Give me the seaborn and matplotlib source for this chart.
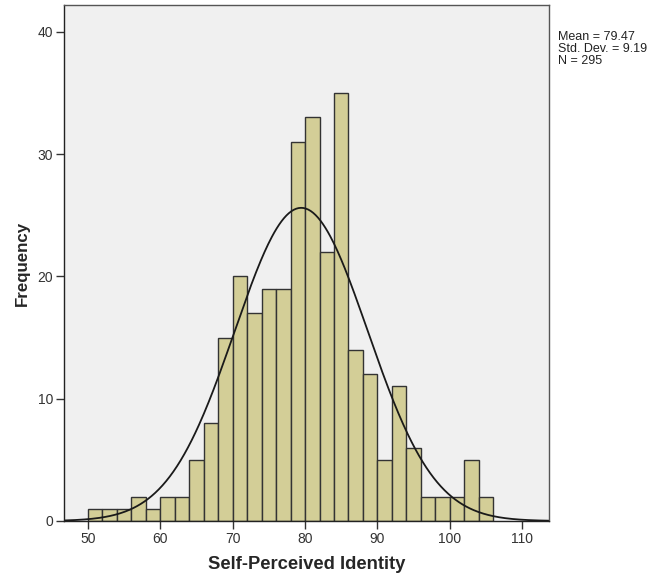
import numpy as np
import pandas as pd
import matplotlib
matplotlib.use("Agg")
import matplotlib.pyplot as plt
import seaborn as sns

# Data
bin_left = [50, 52, 54, 56, 58, 60, 62, 64, 66, 68, 70, 72, 74, 76,
            78, 80, 82, 84, 86, 88, 90, 92, 94, 96, 98, 100, 102, 104]
counts = [1, 1, 1, 2, 1, 2, 2, 5, 8, 15, 20, 17, 19, 19,
          31, 33, 22, 35, 14, 12, 5, 11, 6, 2, 2, 2, 5, 2]
bin_width = 2
mean_val = 79.47
sd_val = 9.19
n_val = 295
x_ticks = [50, 60, 70, 80, 90, 100, 110]
y_ticks = [0, 10, 20, 30, 40]

sns.set_theme(style="white")
plt.rcParams['font.family'] = ['Liberation Sans', 'DejaVu Sans']

fig = plt.figure(figsize=(6.51, 5.75), dpi=100)
ax = fig.add_axes([64/651, 1-521/575, (549-64)/651, (521-5)/575])
ax.set_facecolor('#f0f0f0')

df = pd.DataFrame({"x": np.array(bin_left, dtype=float) + bin_width/2,
                   "w": np.array(counts, dtype=float)})
sns.histplot(data=df, x="x", weights="w", binwidth=bin_width,
             binrange=(bin_left[0], bin_left[-1] + bin_width), ax=ax,
             color='#d3ce97', edgecolor='#333333', linewidth=1.0, alpha=1)

xs = np.linspace(46.7, 113.7, 400)
ys = n_val * bin_width / (sd_val * np.sqrt(2*np.pi)) * np.exp(-0.5*((xs-mean_val)/sd_val)**2)
sns.lineplot(x=xs, y=ys, ax=ax, color='#1a1a1a', linewidth=1.3)

ax.set_xlim(46.7, 113.7)
ax.set_ylim(0, 42.2)
ax.set_xticks(x_ticks)
ax.set_yticks(y_ticks)
ax.tick_params(axis='both', which='both', direction='out', length=6, width=1,
               color='#333333', labelsize=10, labelcolor='#333333', pad=2,
               bottom=True, left=True)
for s in ['left', 'bottom']:
    ax.spines[s].set_color('#222222')
    ax.spines[s].set_linewidth(1.0)
for s in ['top', 'right']:
    ax.spines[s].set_color('#555555')
    ax.spines[s].set_linewidth(1.0)

ax.set_xlabel('Self-Perceived Identity', fontsize=13.2, fontweight='bold', labelpad=7)
ax.set_ylabel('Frequency', fontsize=12.2, fontweight='bold', labelpad=5)

fig.text(558/651, 1-31/575, f"Mean = {mean_val}\nStd. Dev. = {sd_val}\nN = {n_val}",
         fontsize=9, va='top', ha='left', linespacing=0.98, color='#222222')

fig.savefig('out.png', dpi=100)
